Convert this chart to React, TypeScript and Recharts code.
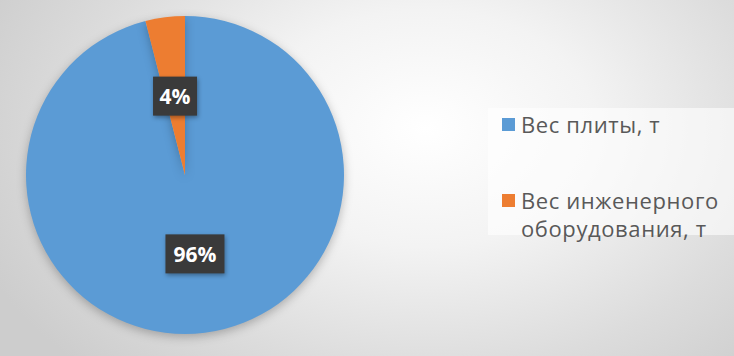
import { PieChart, Pie, Cell, Legend } from "recharts";

const names = ["Вес плиты, т", "Вес инженерного оборудования, т"];
const legendLines = [["Вес плиты, т"], ["Вес инженерного", "оборудования, т"]];
const shares = [96, 4];
const colors = ["#5B9BD5", "#ED7D31"];

const data = names.map((name, i) => ({ name, value: shares[i] }));

const RADIAN = Math.PI / 180;
const FONT = "'Open Sans', sans-serif";

const renderLabel = (props: any) => {
  const { cx, cy, midAngle, outerRadius, percent } = props;
  const r = outerRadius * 0.5;
  const x = cx + r * Math.cos(-midAngle * RADIAN);
  const y = cy + r * Math.sin(-midAngle * RADIAN);
  const text = `${Math.round(percent * 100)}%`;
  const w = 14 + text.length * 15;
  const h = 39;
  return (
    <g>
      <rect
        x={x - w / 2}
        y={y - h / 2}
        width={w}
        height={h}
        fill="#3a3a3a"
        style={{ filter: "drop-shadow(1px 2px 2px rgba(0,0,0,0.35))" }}
      />
      <text
        x={x}
        y={y}
        fill="#ffffff"
        textAnchor="middle"
        dominantBaseline="central"
        fontSize={21}
        fontWeight="bold"
        fontFamily={FONT}
      >
        {text}
      </text>
    </g>
  );
};

// legend item tops, relative to the legend box
const itemTops = [2, 78];

const renderLegend = (props: any) => {
  const { payload } = props;
  return (
    <div
      style={{
        position: "relative",
        background: "rgba(255,255,255,0.6)",
        width: 246,
        height: 127,
        fontFamily: FONT,
        fontSize: 22,
        letterSpacing: 0.6,
        color: "#595959",
      }}
    >
      {payload.map((entry: any) => {
        const i = names.indexOf(entry.value);
        return (
          <div key={entry.value}>
            <span
              style={{
                position: "absolute",
                left: 14,
                top: itemTops[i] + 8,
                width: 13,
                height: 13,
                background: colors[i],
              }}
            />
            <div
              style={{
                position: "absolute",
                left: 33,
                top: itemTops[i],
                lineHeight: "28px",
                whiteSpace: "nowrap",
              }}
            >
              {legendLines[i].map((line) => (
                <div key={line}>{line}</div>
              ))}
            </div>
          </div>
        );
      })}
    </div>
  );
};

const App = () => {
  return (
    <div
      style={{
        position: "absolute",
        left: 0,
        top: 0,
        width: 734,
        height: 356,
        background:
          "radial-gradient(ellipse 66% 95% at 58% 36%, #ffffff 0%, #f3f3f3 35%, #dcdcdc 72%, #cdcdcd 100%)",
      }}
    >
      <PieChart width={734} height={356} margin={{ top: 0, right: 0, bottom: 0, left: 0 }}>
        <Pie
          data={data}
          dataKey="value"
          nameKey="name"
          cx={185}
          cy={175}
          outerRadius={159}
          startAngle={90}
          endAngle={-270}
          stroke="none"
          label={renderLabel}
          labelLine={false}
          isAnimationActive={false}
          style={{ filter: "drop-shadow(0px 3px 5px rgba(0,0,0,0.25))" }}
        >
          {data.map((d, i) => (
            <Cell key={d.name} fill={colors[i]} />
          ))}
        </Pie>
        <Legend
          layout="vertical"
          content={renderLegend}
          wrapperStyle={{ left: 488, top: 108, width: 246 }}
        />
      </PieChart>
    </div>
  );
};

export default App;
